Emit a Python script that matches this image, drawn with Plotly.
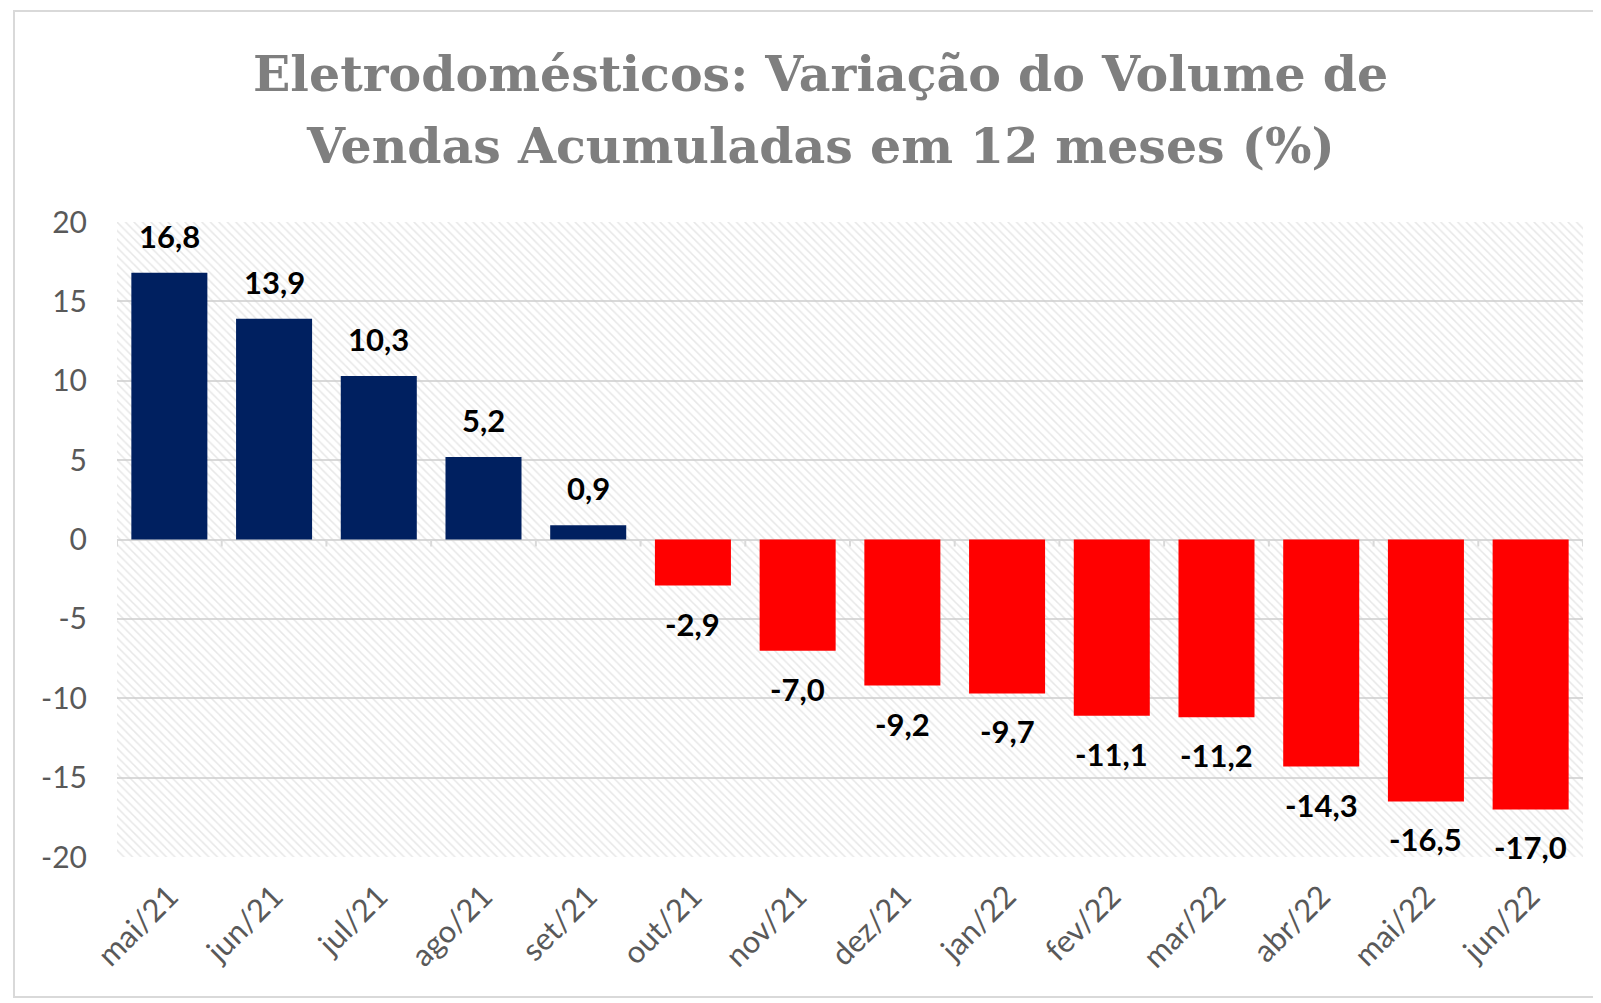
import plotly.graph_objects as go

categories = ["mai/21", "jun/21", "jul/21", "ago/21", "set/21", "out/21", "nov/21",
              "dez/21", "jan/22", "fev/22", "mar/22", "abr/22", "mai/22", "jun/22"]
values = [16.8, 13.9, 10.3, 5.2, 0.9, -2.9, -7.0, -9.2, -9.7, -11.1, -11.2, -14.3, -16.5, -17.0]
y_ticks = [-20, -15, -10, -5, 0, 5, 10, 15, 20]
title_lines = ["Eletrodomésticos: Variação do Volume de", "Vendas Acumuladas em 12 meses (%)"]

BLUE = "#002060"
RED = "#FF0000"
GRID = "#D9D9D9"
W, H = 1593, 995
ML, MR, MT, MB = 109, 18, 214, 146
PW, PH = W - ML - MR, H - MT - MB
ymin, ymax = y_ticks[0], y_ticks[-1]
n = len(categories)

colors = [BLUE if v >= 0 else RED for v in values]
labels = [f"{v:.1f}".replace(".", ",") for v in values]

fig = go.Figure()

# hatched plot background (drawn first, under the bars)
fig.add_trace(go.Bar(
    x=[categories[0]], y=[ymax - ymin], base=[ymin], width=[n], offset=-0.5,
    marker=dict(color="rgba(0,0,0,0)", line=dict(width=0),
                pattern=dict(shape="\\", fgcolor="#CFCFCF", bgcolor="rgba(255,255,255,0)",
                             size=6, solidity=0.25)),
    hoverinfo="skip", showlegend=False,
))

fig.add_trace(go.Bar(
    x=categories, y=values, marker=dict(color=colors, line=dict(width=0)),
    showlegend=False,
))

annotations = []
for c, v, t in zip(categories, values, labels):
    annotations.append(dict(
        x=c, y=v, xref="x", yref="y", text=f"<b>{t}</b>", showarrow=False,
        yshift=37 if v >= 0 else -38,
        font=dict(family="Lato", size=31, color="#000000"),
    ))

for line, ypix in zip(title_lines, [66, 138]):
    annotations.append(dict(
        x=(812 - ML) / PW, y=1 + (MT - ypix) / PH, xref="paper", yref="paper",
        text=f"<b>{line}</b>", showarrow=False, xanchor="center", yanchor="middle",
        font=dict(family="DejaVu Serif", size=49, color="#7F7F7F"),
    ))

# tick marks at category boundaries on the zero line
shapes = []
for i in range(n + 1):
    shapes.append(dict(
        type="line", xref="x", yref="y", x0=i - 0.5, x1=i - 0.5,
        ysizemode="pixel", yanchor=0, y0=0, y1=-7,
        line=dict(color=GRID, width=2), layer="above",
    ))
shapes.append(dict(type="rect", xref="paper", yref="paper",
                   x0=-(ML - 6) / PW, x1=1 + (MR - 2) / PW, y0=-(MB - 6) / PH, y1=1 + (MT - 3) / PH,
                   line=dict(color=GRID, width=2), layer="below"))

fig.update_layout(
    width=W, height=H,
    margin=dict(l=ML, r=MR, t=MT, b=MB),
    paper_bgcolor="white", plot_bgcolor="white",
    barmode="overlay", bargap=0.274,
    annotations=annotations,
    shapes=shapes,
    xaxis=dict(
        type="category", tickangle=-45, tickfont=dict(family="Lato", size=31, color="#595959"),
        showgrid=False, zeroline=False, showline=False, ticks="", ticklabelstandoff=14,
        range=[-0.5, n - 0.5],
    ),
    yaxis=dict(
        range=[ymin, ymax], tickvals=y_ticks, ticktext=[str(t) for t in y_ticks],
        tickfont=dict(family="Lato", size=30, color="#595959"),
        showgrid=True, gridcolor=GRID, gridwidth=2,
        zeroline=True, zerolinecolor=GRID, zerolinewidth=2,
        showline=False, ticks="", ticklabelstandoff=29,
    ),
)

fig.write_html("out.html")
